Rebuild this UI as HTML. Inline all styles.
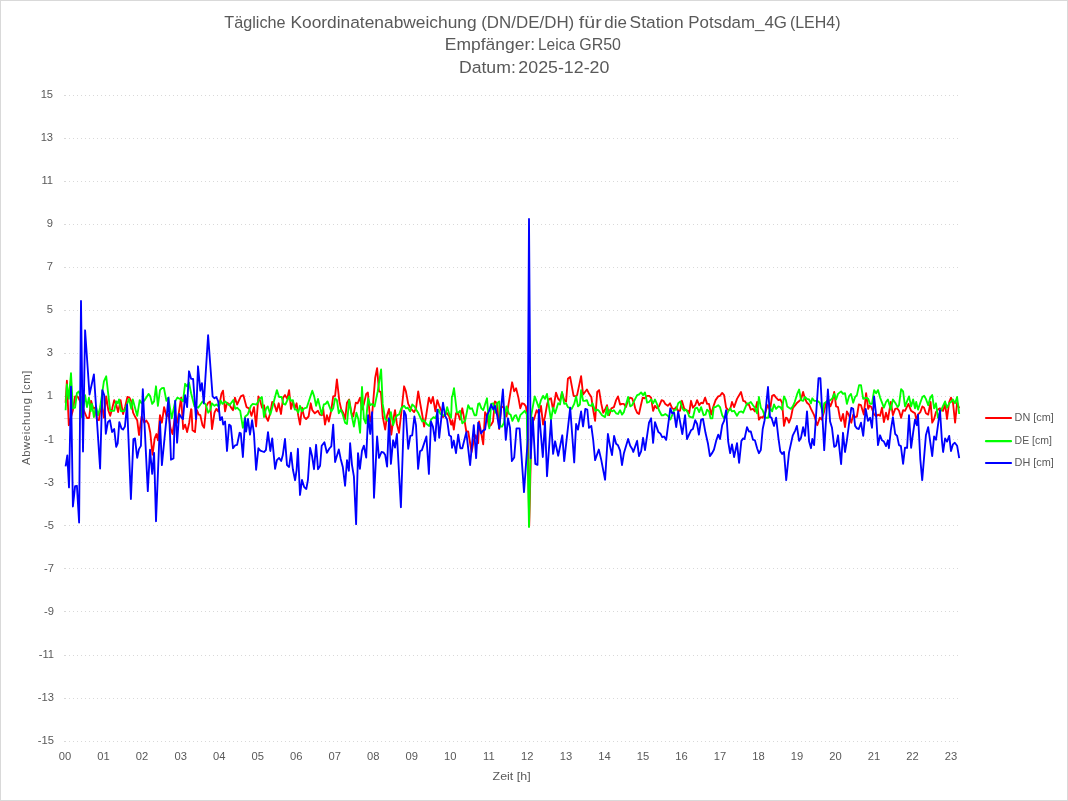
<!DOCTYPE html>
<html><head><meta charset="utf-8"><title>Chart</title>
<style>
html,body{margin:0;padding:0;background:#fff;}
body{width:1068px;height:801px;overflow:hidden;font-family:"Liberation Sans",sans-serif;}
svg{display:block;position:absolute;left:0;top:0;will-change:transform;}
text{font-family:"Liberation Sans",sans-serif;fill:#595959;}
</style></head><body>
<svg width="1068" height="801" viewBox="0 0 1068 801">
<rect x="0.5" y="0.5" width="1067" height="800" fill="#ffffff" stroke="#d9d9d9" stroke-width="1"/>
<g stroke="#d9d9d9" stroke-width="1" stroke-dasharray="1 3" shape-rendering="crispEdges"><line x1="65" y1="741.5" x2="960" y2="741.5"/><line x1="64" y1="741.5" x2="65" y2="741.5"/><line x1="65" y1="698.5" x2="960" y2="698.5"/><line x1="64" y1="698.5" x2="65" y2="698.5"/><line x1="65" y1="655.5" x2="960" y2="655.5"/><line x1="64" y1="655.5" x2="65" y2="655.5"/><line x1="65" y1="611.5" x2="960" y2="611.5"/><line x1="64" y1="611.5" x2="65" y2="611.5"/><line x1="65" y1="568.5" x2="960" y2="568.5"/><line x1="64" y1="568.5" x2="65" y2="568.5"/><line x1="65" y1="525.5" x2="960" y2="525.5"/><line x1="64" y1="525.5" x2="65" y2="525.5"/><line x1="65" y1="482.5" x2="960" y2="482.5"/><line x1="64" y1="482.5" x2="65" y2="482.5"/><line x1="65" y1="439.5" x2="960" y2="439.5"/><line x1="64" y1="439.5" x2="65" y2="439.5"/><line x1="65" y1="396.5" x2="960" y2="396.5"/><line x1="64" y1="396.5" x2="65" y2="396.5"/><line x1="65" y1="353.5" x2="960" y2="353.5"/><line x1="64" y1="353.5" x2="65" y2="353.5"/><line x1="65" y1="310.5" x2="960" y2="310.5"/><line x1="64" y1="310.5" x2="65" y2="310.5"/><line x1="65" y1="267.5" x2="960" y2="267.5"/><line x1="64" y1="267.5" x2="65" y2="267.5"/><line x1="65" y1="224.5" x2="960" y2="224.5"/><line x1="64" y1="224.5" x2="65" y2="224.5"/><line x1="65" y1="181.5" x2="960" y2="181.5"/><line x1="64" y1="181.5" x2="65" y2="181.5"/><line x1="65" y1="138.5" x2="960" y2="138.5"/><line x1="64" y1="138.5" x2="65" y2="138.5"/><line x1="65" y1="95.5" x2="960" y2="95.5"/><line x1="64" y1="95.5" x2="65" y2="95.5"/></g>
<line x1="64" y1="418.5" x2="960" y2="418.5" stroke="#d9d9d9" stroke-width="1" shape-rendering="crispEdges"/>
<g font-size="11.2"><text x="54.0" y="744.0" text-anchor="end">-15</text><text x="54.0" y="700.9" text-anchor="end">-13</text><text x="54.0" y="657.8" text-anchor="end">-11</text><text x="54.0" y="614.8" text-anchor="end">-9</text><text x="54.0" y="571.7" text-anchor="end">-7</text><text x="54.0" y="528.6" text-anchor="end">-5</text><text x="54.0" y="485.6" text-anchor="end">-3</text><text x="54.0" y="442.5" text-anchor="end">-1</text><text x="53.1" y="399.4" text-anchor="end">1</text><text x="53.1" y="356.4" text-anchor="end">3</text><text x="53.1" y="313.3" text-anchor="end">5</text><text x="53.1" y="270.2" text-anchor="end">7</text><text x="53.1" y="227.2" text-anchor="end">9</text><text x="53.1" y="184.1" text-anchor="end">11</text><text x="53.1" y="141.0" text-anchor="end">13</text><text x="53.1" y="98.0" text-anchor="end">15</text></g>
<g font-size="11.2"><text x="65.1" y="760" text-anchor="middle">00</text><text x="103.6" y="760" text-anchor="middle">01</text><text x="142.1" y="760" text-anchor="middle">02</text><text x="180.7" y="760" text-anchor="middle">03</text><text x="219.2" y="760" text-anchor="middle">04</text><text x="257.7" y="760" text-anchor="middle">05</text><text x="296.2" y="760" text-anchor="middle">06</text><text x="334.7" y="760" text-anchor="middle">07</text><text x="373.3" y="760" text-anchor="middle">08</text><text x="411.8" y="760" text-anchor="middle">09</text><text x="450.3" y="760" text-anchor="middle">10</text><text x="488.8" y="760" text-anchor="middle">11</text><text x="527.3" y="760" text-anchor="middle">12</text><text x="565.9" y="760" text-anchor="middle">13</text><text x="604.4" y="760" text-anchor="middle">14</text><text x="642.9" y="760" text-anchor="middle">15</text><text x="681.4" y="760" text-anchor="middle">16</text><text x="719.9" y="760" text-anchor="middle">17</text><text x="758.5" y="760" text-anchor="middle">18</text><text x="797.0" y="760" text-anchor="middle">19</text><text x="835.5" y="760" text-anchor="middle">20</text><text x="874.0" y="760" text-anchor="middle">21</text><text x="912.5" y="760" text-anchor="middle">22</text><text x="951.1" y="760" text-anchor="middle">23</text></g>
<g><text x="224.31" y="27.9" font-size="16.8" textLength="61.2" lengthAdjust="spacingAndGlyphs">Tägliche</text><text x="290.41" y="27.9" font-size="16.8" textLength="186.2" lengthAdjust="spacingAndGlyphs">Koordinatenabweichung</text><text x="481.24" y="27.9" font-size="16.8" textLength="93.0" lengthAdjust="spacingAndGlyphs">(DN/DE/DH)</text><text x="578.81" y="27.9" font-size="16.8" textLength="22.9" lengthAdjust="spacingAndGlyphs">für</text><text x="604.25" y="27.9" font-size="16.8" textLength="22.6" lengthAdjust="spacingAndGlyphs">die</text><text x="629.64" y="27.9" font-size="16.8" textLength="54.0" lengthAdjust="spacingAndGlyphs">Station</text><text x="688.34" y="27.9" font-size="16.8" textLength="98.7" lengthAdjust="spacingAndGlyphs">Potsdam_4G</text><text x="789.89" y="27.9" font-size="16.8" textLength="50.6" lengthAdjust="spacingAndGlyphs">(LEH4)</text><text x="444.85" y="50.4" font-size="16.8" textLength="90.2" lengthAdjust="spacingAndGlyphs">Empfänger:</text><text x="537.97" y="50.4" font-size="16.8" textLength="37.1" lengthAdjust="spacingAndGlyphs">Leica</text><text x="579.22" y="50.4" font-size="16.8" textLength="41.8" lengthAdjust="spacingAndGlyphs">GR50</text><text x="458.9" y="72.9" font-size="16.8" textLength="56.9" lengthAdjust="spacingAndGlyphs">Datum:</text><text x="518.37" y="72.9" font-size="16.8" textLength="91.0" lengthAdjust="spacingAndGlyphs">2025-12-20</text></g>
<text x="492.6" y="779.5" font-size="11" textLength="38.0" lengthAdjust="spacingAndGlyphs">Zeit [h]</text>
<text transform="translate(29.9,464.9) rotate(-90)" font-size="11.3" textLength="94.2" lengthAdjust="spacing">Abweichung [cm]</text>
<line x1="986" y1="418" x2="1011" y2="418" stroke="#ff0000" stroke-width="2.2" stroke-linecap="round"/>
<text x="1014.6" y="420.8" font-size="11" textLength="39.3" lengthAdjust="spacingAndGlyphs">DN [cm]</text>
<line x1="986" y1="441.2" x2="1011" y2="441.2" stroke="#00ff00" stroke-width="2.2" stroke-linecap="round"/>
<text x="1014.6" y="444.0" font-size="11" textLength="37.3" lengthAdjust="spacingAndGlyphs">DE [cm]</text>
<line x1="986" y1="463" x2="1011" y2="463" stroke="#0000ff" stroke-width="2.2" stroke-linecap="round"/>
<text x="1014.6" y="465.8" font-size="11" textLength="39.3" lengthAdjust="spacingAndGlyphs">DH [cm]</text>
<polyline points="65.6,402.7 66.9,380.7 68.8,425.2 72.9,410.2 75.1,396.4 77.6,396.4 80.1,401.4 87.0,418.0 89.1,418.0 91.1,400.8 93.2,408.3 95.1,407.7 97.0,419.6 98.9,420.2 101.4,401.4 103.9,417.7 106.2,396.4 108.3,410.2 110.2,415.8 112.1,408.9 114.2,400.1 116.2,404.5 118.1,412.1 120.6,400.1 123.1,414.0 125.2,406.4 127.4,397.0 129.4,397.6 131.3,401.4 133.1,412.7 135.3,417.1 137.2,420.2 139.0,435.0 141.6,416.5 144.3,422.7 146.3,420.5 148.5,424.0 150.3,432.8 152.5,454.7 154.7,438.4 156.4,434.0 157.9,440.3 160.0,415.2 161.9,422.7 164.1,407.1 166.6,416.5 168.5,414.0 170.4,427.8 172.5,434.0 175.2,415.2 177.3,422.7 179.2,410.2 181.1,397.6 183.2,429.0 185.1,424.6 187.1,432.1 189.2,422.7 191.1,409.2 191.5,409.6 192.5,430.3 195.0,432.1 196.9,410.2 198.8,414.6 200.3,415.2 202.5,425.2 204.1,427.8 206.3,406.4 208.2,402.7 210.1,401.4 212.0,429.0 214.5,412.7 216.3,408.9 218.2,411.4 221.4,393.9 223.0,390.7 225.1,411.4 227.0,402.7 228.9,403.9 230.8,407.1 233.0,410.2 234.9,397.6 237.1,404.5 240.8,396.4 243.3,395.1 246.5,407.1 249.0,408.3 251.5,415.8 254.0,407.1 256.1,426.5 258.4,396.4 260.3,401.4 262.1,407.7 264.0,405.2 265.9,416.5 268.0,420.9 270.3,412.7 272.2,402.0 274.3,403.9 276.6,411.4 278.7,403.3 281.0,414.0 283.1,397.6 285.0,395.1 287.2,398.9 289.1,390.1 291.0,408.9 292.9,401.4 294.8,408.3 296.6,403.3 298.2,415.2 300.0,424.6 302.0,407.7 304.2,417.1 306.1,419.0 308.6,416.5 310.7,403.3 312.3,410.2 314.8,413.3 318.0,410.8 319.9,414.6 321.7,415.2 322.5,414.6 323.1,407.7 325.0,424.6 326.9,415.2 328.8,421.5 331.3,410.2 333.2,396.4 335.1,395.8 336.9,379.4 339.4,401.4 341.3,409.6 343.2,412.7 345.1,419.0 347.0,402.7 349.1,399.5 351.4,412.7 353.2,416.5 355.8,402.7 357.6,403.3 360.1,397.6 362.0,409.6 363.9,403.9 366.2,393.9 367.9,392.6 370.2,421.5 372.1,415.2 375.2,377.6 377.1,368.2 379.0,391.4 380.9,392.0 382.7,416.5 385.2,429.6 387.1,415.2 389.0,408.9 391.3,434.7 393.4,419.0 395.0,410.2 396.9,424.0 399.0,432.8 401.6,410.2 404.1,386.3 405.9,391.4 408.2,403.9 410.3,407.7 412.2,410.2 414.1,412.1 416.0,408.3 418.2,391.4 420.4,404.5 422.3,415.2 424.1,426.5 426.0,416.5 428.9,397.6 431.0,403.3 432.9,397.0 435.4,411.4 437.3,400.1 439.2,405.8 441.1,410.2 443.0,417.1 444.8,415.2 446.7,412.7 449.2,416.5 451.1,424.6 451.9,424.6 452.4,420.2 453.8,429.6 456.0,413.3 458.2,414.0 460.0,419.6 462.3,408.3 464.4,419.6 466.3,431.5 468.2,431.5 471.6,452.0 473.8,440.3 475.7,435.3 478.2,443.2 479.1,421.5 481.4,434.0 483.2,444.4 485.1,412.1 487.0,415.8 488.9,426.5 490.8,425.2 493.0,421.5 494.9,401.4 497.1,403.3 499.2,429.0 501.4,406.4 504.0,407.7 506.5,416.5 509.0,401.4 512.1,382.3 514.2,391.4 516.1,388.2 518.4,397.6 520.3,408.3 522.1,403.3 524.0,403.9 525.9,406.4 527.5,417.7 529.2,525.9 531.6,424.0 534.1,419.0 536.6,410.2 539.1,414.0 541.0,405.8 543.1,424.6 545.0,416.5 547.2,403.9 549.1,398.9 551.0,398.3 553.1,410.2 556.0,392.6 558.2,398.9 560.0,400.8 562.0,392.6 564.2,400.1 566.1,401.4 567.9,378.8 570.1,376.9 573.6,395.8 575.5,396.4 577.1,395.1 581.1,376.1 583.0,393.9 583.1,394.5 585.0,392.0 586.9,389.5 588.8,393.2 591.3,397.0 593.2,410.2 595.1,420.9 597.2,392.0 599.1,390.1 601.3,403.9 603.2,412.7 605.1,409.6 607.0,405.2 609.1,415.2 611.4,408.3 613.9,407.1 616.1,400.1 618.0,396.4 620.1,404.5 622.0,403.9 623.9,403.9 626.0,407.1 628.1,400.1 630.2,397.6 632.1,398.3 634.0,403.3 635.2,408.3 637.1,412.7 639.0,414.0 640.9,405.2 642.7,397.6 644.6,398.3 647.1,395.8 649.0,395.8 651.1,397.6 653.1,410.8 655.0,405.8 656.9,408.3 659.0,406.4 661.6,400.1 663.4,400.8 665.3,403.9 667.8,405.8 670.0,403.3 672.2,408.3 674.1,409.6 676.2,407.1 678.2,410.8 680.0,410.8 681.9,400.8 684.1,408.3 686.0,410.2 687.9,410.8 689.2,413.3 691.0,400.8 692.9,407.7 695.2,405.2 697.1,400.1 699.2,405.2 701.1,402.7 703.0,403.3 705.1,397.6 707.1,403.9 709.0,403.9 711.1,414.6 713.0,407.7 713.8,405.2 715.6,400.1 718.2,396.4 720.0,395.8 722.2,392.9 724.1,395.1 726.1,407.7 728.2,410.2 730.1,409.6 732.0,402.0 734.1,407.1 737.0,398.9 741.0,392.0 743.2,400.8 745.1,401.4 747.0,404.5 748.9,404.5 750.8,409.6 753.0,408.9 754.9,411.4 757.1,402.0 758.9,419.6 760.8,417.1 762.7,417.7 765.2,412.7 767.7,405.2 770.0,410.2 772.1,395.8 774.0,394.9 776.1,397.6 778.4,400.1 780.3,399.5 782.1,402.7 784.0,425.9 785.9,417.7 787.2,418.3 789.0,422.7 790.9,417.7 792.8,408.3 794.7,405.8 797.2,402.7 801.0,399.5 803.1,392.0 805.0,398.9 807.0,402.7 809.1,404.5 811.0,408.9 814.1,415.2 817.3,425.2 819.8,417.7 821.7,419.6 824.2,411.4 826.1,402.7 827.9,400.1 830.4,406.4 832.3,401.4 834.2,392.0 836.1,406.4 838.0,407.1 839.9,417.7 841.1,420.9 843.0,414.0 843.1,414.0 845.0,427.1 846.9,411.4 849.0,415.2 851.3,422.7 853.2,414.6 855.1,417.1 856.9,416.5 858.8,404.5 861.0,405.2 863.8,414.6 866.1,393.2 868.2,408.9 869.5,405.8 871.4,407.1 873.9,414.0 876.1,416.5 878.0,414.6 880.1,415.8 882.0,407.7 883.9,422.1 886.0,412.7 887.9,419.6 890.8,402.0 892.9,415.2 895.2,408.9 897.1,408.3 899.0,410.8 901.1,417.7 903.1,410.2 905.0,410.8 908.4,403.9 911.1,410.8 913.1,412.1 915.0,413.3 916.2,419.0 918.4,414.0 920.3,412.1 922.4,406.4 924.1,407.7 925.9,413.3 928.2,414.6 930.6,402.0 932.2,422.7 934.1,419.0 936.0,412.1 937.9,409.6 940.0,408.3 941.9,410.2 943.1,410.8 945.1,403.9 947.0,419.0 949.2,402.0 951.0,397.6 952.9,402.0 955.1,422.7 957.1,402.7 959.2,408.3" fill="none" stroke="#ff0000" stroke-width="1.85" stroke-linejoin="round" stroke-linecap="butt"/>
<polyline points="65.6,410.2 66.9,384.5 68.8,398.9 71.0,373.2 72.9,408.3 75.1,407.7 76.9,393.2 78.8,391.4 80.7,397.6 82.0,417.1 85.1,395.1 87.0,407.1 88.9,397.6 90.7,411.4 92.0,403.9 93.9,417.1 96.0,406.4 98.0,415.2 100.1,407.7 103.9,381.3 106.2,376.3 110.2,410.8 114.2,410.8 116.2,401.4 117.7,403.3 119.0,399.5 121.1,411.4 124.6,410.8 129.0,398.9 131.3,408.9 132.8,399.5 137.2,415.8 139.7,400.1 141.6,403.3 144.7,400.1 148.5,393.9 150.3,396.4 152.2,403.9 154.1,401.4 156.0,386.3 157.9,405.8 160.0,390.1 161.9,388.2 163.9,387.9 166.4,400.8 168.3,397.6 171.7,418.3 175.2,401.4 177.3,397.6 181.1,399.5 183.0,401.4 185.1,383.8 187.1,386.3 189.0,382.6 191.1,393.2 194.4,406.4 198.2,407.7 202.5,401.4 205.7,404.5 208.2,412.7 210.1,410.2 212.0,403.3 214.5,405.8 216.3,404.5 218.9,406.4 220.7,400.8 222.6,403.9 225.1,401.4 227.6,403.9 229.5,405.2 233.3,400.1 235.2,408.9 237.1,407.7 240.2,410.8 242.9,427.8 245.2,416.5 247.7,414.6 250.9,405.8 252.7,403.9 256.5,404.5 259.6,398.9 261.9,397.0 264.0,417.1 266.2,408.3 267.8,406.4 270.3,414.6 272.2,407.7 276.9,390.1 279.1,397.0 281.6,397.0 283.5,403.9 285.4,404.5 289.1,396.4 291.0,400.8 292.9,400.1 294.8,409.6 296.6,409.6 298.2,412.7 300.0,405.8 302.0,411.4 304.2,408.3 306.7,407.7 312.3,390.7 314.2,396.4 316.1,405.8 318.0,398.9 321.7,414.6 321.9,413.3 323.8,404.5 325.6,403.9 327.5,401.4 329.4,406.4 331.3,411.4 333.2,408.3 335.1,398.3 336.9,400.1 338.8,413.3 340.7,409.6 342.6,414.0 345.1,422.7 347.0,424.0 349.1,400.1 351.4,414.0 353.9,426.5 356.4,412.7 358.3,419.0 360.1,432.8 362.0,387.0 363.9,419.0 365.8,423.4 368.1,398.3 370.2,405.2 372.1,403.9 374.6,406.4 377.7,391.4 381.1,369.4 382.7,403.9 385.2,419.0 389.0,421.5 390.9,412.1 393.1,425.2 395.3,418.3 397.2,415.2 399.0,414.6 401.6,407.7 404.1,405.8 405.9,408.3 407.8,407.7 410.1,411.4 412.2,404.5 414.4,406.4 416.6,410.2 418.5,413.3 420.4,417.7 422.3,421.5 424.1,420.2 426.6,424.0 429.2,425.9 431.0,419.6 433.5,417.1 435.4,418.3 438.6,409.6 440.4,414.0 443.0,415.2 445.1,415.8 447.1,407.1 449.2,414.0 451.1,417.7 451.9,396.4 452.4,396.4 454.0,388.2 456.9,412.7 458.8,412.1 460.0,410.8 462.3,423.4 465.1,420.9 468.2,405.2 470.1,408.9 472.0,408.3 474.5,415.2 476.3,415.2 478.2,403.9 479.5,403.3 481.4,408.3 483.2,410.2 487.0,398.3 489.3,428.4 491.2,403.9 493.3,403.3 495.2,412.7 497.1,403.3 499.2,401.4 500.2,426.5 502.1,426.5 504.0,422.7 506.5,406.4 509.0,414.0 510.6,414.6 512.4,420.9 514.6,415.8 516.1,415.2 518.4,421.5 520.3,415.2 522.1,413.3 524.7,410.8 526.8,414.2 529.0,527.0 531.3,415.2 534.7,396.4 536.6,401.4 538.8,407.7 541.0,400.1 543.1,395.8 545.0,398.9 547.0,393.9 551.0,420.2 553.1,407.7 555.1,413.3 558.2,403.3 560.0,404.5 562.0,392.0 564.2,403.9 566.1,403.3 567.9,407.1 571.7,408.9 574.2,403.9 576.1,396.4 578.0,406.4 579.9,404.5 581.1,390.1 583.0,400.1 583.1,400.8 585.0,400.8 586.9,400.1 588.8,405.2 591.3,405.8 592.5,403.3 595.1,410.8 597.6,409.6 599.4,411.4 602.0,415.2 605.1,417.1 607.0,407.1 607.9,415.2 610.1,409.6 612.0,411.4 613.9,410.2 616.1,413.3 618.0,414.0 620.1,410.2 622.0,414.6 623.9,412.1 628.1,397.0 630.2,406.4 632.1,405.2 634.6,400.1 637.1,395.1 639.0,394.5 641.1,392.4 643.1,395.1 645.0,392.4 647.1,402.7 649.0,402.0 651.1,399.5 653.1,403.3 655.0,399.5 656.9,403.9 659.0,410.2 661.6,415.2 663.4,415.2 665.3,414.0 667.8,415.8 670.3,419.6 672.2,415.2 674.1,410.2 676.2,409.6 678.2,403.3 680.4,401.4 682.3,408.3 684.1,410.8 686.0,409.6 687.9,412.7 689.2,416.5 691.0,417.1 692.9,417.7 695.2,408.3 697.1,407.7 699.2,412.1 701.1,407.1 703.6,415.2 705.5,414.6 707.1,409.6 709.0,411.4 710.5,418.3 712.4,418.3 713.8,407.1 715.6,407.1 718.2,405.2 720.0,407.1 722.2,415.2 724.1,418.3 726.1,416.5 728.2,411.4 730.1,408.3 732.0,411.4 734.1,410.8 737.0,415.8 739.1,412.1 741.4,411.4 743.2,412.7 747.0,403.3 748.9,403.3 750.8,402.0 753.0,405.2 754.9,407.7 757.1,413.3 758.9,397.0 760.8,407.7 762.7,410.2 765.2,417.7 768.3,417.7 770.0,407.7 772.1,411.4 774.0,404.5 776.1,408.9 778.4,406.4 780.3,407.1 782.1,409.6 784.0,396.4 785.9,400.1 787.2,406.4 789.0,407.7 790.9,408.9 792.8,406.4 794.7,402.0 797.2,393.9 799.1,389.5 801.0,400.1 803.1,400.8 805.0,397.0 807.0,398.9 809.1,399.5 811.0,403.3 812.3,398.3 814.1,400.8 817.3,400.8 819.8,402.7 821.7,408.9 822.9,413.3 824.2,403.3 826.1,402.0 827.9,401.4 830.4,400.1 832.3,398.3 834.2,393.9 836.1,399.5 838.0,393.9 841.1,391.4 843.0,393.9 843.1,393.9 845.0,393.2 846.9,403.9 849.0,396.4 851.0,393.9 853.2,402.7 855.1,397.0 856.9,395.1 859.1,385.1 861.0,385.1 863.2,398.9 866.1,397.6 868.2,398.9 870.1,403.9 872.0,403.9 874.1,390.1 876.1,393.2 878.0,390.1 880.1,397.6 883.9,407.7 886.0,402.0 887.9,399.5 890.8,409.6 892.9,399.5 895.2,402.7 897.7,407.1 899.0,405.2 901.1,389.1 903.1,391.4 905.0,406.4 909.0,396.4 911.1,406.4 913.1,399.5 915.0,408.3 916.2,402.0 918.0,409.6 920.3,402.7 922.4,397.0 924.1,395.8 925.9,398.9 928.2,405.2 930.3,397.6 932.2,395.1 934.1,408.3 936.0,403.3 937.9,417.7 940.0,412.7 941.9,408.3 945.1,401.4 947.0,407.7 949.2,403.3 951.0,402.0 952.9,399.5 955.1,403.3 957.1,397.0 959.2,414.0" fill="none" stroke="#00ff00" stroke-width="1.85" stroke-linejoin="round" stroke-linecap="butt"/>
<polyline points="65.6,466.4 67.3,455.4 69.0,487.4 71.0,386.6 72.9,506.5 75.1,486.1 76.9,485.8 79.1,522.5 81.0,301.0 83.0,451.6 85.1,330.3 89.5,394.5 93.9,374.4 100.1,468.5 102.3,390.1 104.2,395.1 105.8,433.8 107.9,422.1 109.9,420.2 112.1,432.1 114.2,429.0 116.2,446.8 117.7,443.4 119.3,422.1 121.5,428.4 123.1,429.6 124.9,426.5 127.1,404.5 130.9,499.0 133.4,439.0 135.0,438.4 137.2,457.9 139.0,449.1 140.9,445.9 142.8,389.1 147.8,491.1 150.0,449.7 152.2,473.9 154.1,452.8 156.0,521.2 160.0,421.5 161.9,465.1 168.5,397.6 171.0,459.7 173.5,458.5 175.2,400.8 177.1,442.8 179.2,414.0 181.1,417.1 183.0,419.0 185.1,395.1 187.1,407.1 189.0,371.3 191.1,378.8 193.1,378.8 196.0,419.0 198.0,366.3 200.3,390.7 201.9,383.2 203.8,403.3 208.1,335.2 212.6,396.4 214.5,398.3 216.3,397.0 218.2,401.4 220.1,420.2 222.0,417.1 223.2,424.6 225.1,421.5 227.0,451.0 229.1,424.6 230.8,425.9 233.0,448.2 235.2,445.3 237.1,444.9 239.6,432.8 240.8,433.4 242.9,457.0 245.2,418.3 246.1,431.5 248.0,419.0 250.0,434.7 252.1,420.2 254.0,434.0 256.1,469.8 258.4,448.2 260.3,450.6 264.0,452.0 265.9,450.1 268.0,432.1 270.3,451.0 272.2,438.4 275.1,468.9 276.9,460.1 279.1,457.9 281.2,461.0 282.8,455.1 285.0,439.0 287.0,465.1 289.1,467.0 291.0,452.6 292.9,469.5 295.1,480.2 296.6,470.2 297.9,448.8 300.0,495.0 302.0,479.9 304.2,487.1 306.3,489.0 307.9,480.2 310.1,447.8 312.0,455.7 314.0,469.2 316.1,444.8 318.0,469.2 320.1,465.8 321.7,445.7 324.4,442.2 326.9,452.8 329.4,448.5 331.3,446.3 333.2,424.6 335.1,462.0 338.8,449.5 340.7,458.9 342.8,467.0 345.1,485.8 347.0,460.1 348.9,470.8 350.1,443.2 352.0,465.1 353.9,476.4 356.1,524.2 358.0,453.2 359.9,468.9 362.0,450.7 363.9,445.7 366.2,457.6 368.1,415.2 370.2,434.0 372.1,412.1 374.0,497.8 377.1,436.5 379.0,457.9 381.5,452.0 383.4,452.3 385.2,455.1 387.1,466.6 389.0,418.3 390.9,463.9 393.1,440.3 395.0,447.6 396.9,434.0 400.9,507.2 404.1,410.8 405.9,415.2 408.2,448.8 410.3,435.9 412.2,435.3 414.4,416.5 416.0,425.2 418.1,468.9 420.0,451.3 421.9,450.1 426.4,436.5 428.9,473.9 431.0,421.5 432.9,426.5 435.1,440.9 437.3,409.6 439.2,437.8 443.0,402.7 445.1,415.8 447.1,419.6 449.2,435.3 451.1,436.5 452.0,447.8 453.8,440.6 456.0,453.2 458.2,434.7 460.3,448.2 462.3,448.2 466.3,432.1 470.1,465.1 473.8,425.2 476.1,458.2 478.2,422.7 481.1,433.4 483.2,430.3 485.1,429.6 487.0,415.2 488.9,411.4 491.2,404.5 493.3,409.6 494.9,405.8 497.1,415.2 499.2,428.4 502.9,389.5 505.8,439.9 508.0,418.3 510.0,427.8 511.9,461.1 514.2,457.6 516.5,428.4 519.6,428.4 524.0,492.1 527.7,440.3 529.0,219.0 530.7,458.2 532.8,417.7 535.3,463.9 537.5,464.9 538.8,409.6 542.8,457.0 545.0,421.5 547.0,476.2 551.0,420.2 553.1,453.9 555.1,441.3 558.2,455.7 562.3,435.3 564.2,461.1 570.2,407.7 574.2,462.4 576.1,424.0 578.0,429.6 581.1,411.4 583.0,426.5 583.1,426.5 585.3,408.9 587.3,409.6 589.0,427.8 591.3,425.9 593.2,440.0 595.1,460.1 598.8,449.5 601.3,460.1 603.2,470.2 605.1,479.8 607.9,434.0 610.1,446.3 612.0,455.1 614.1,435.9 616.1,443.8 618.0,445.3 620.1,450.7 622.0,465.1 623.9,453.2 628.1,439.0 630.2,445.7 632.1,448.8 633.3,452.0 637.1,440.9 639.0,456.1 641.1,451.3 643.1,437.8 645.0,450.1 649.0,422.7 651.1,418.3 653.1,442.8 655.0,422.1 658.4,432.1 660.3,433.4 662.2,437.2 664.1,436.5 666.2,439.9 670.3,408.3 672.2,413.3 674.1,412.7 676.2,427.1 678.2,411.4 682.3,434.0 685.1,415.2 687.0,439.0 691.0,430.3 692.9,429.0 695.2,420.2 697.1,424.0 698.9,434.7 701.1,419.6 703.0,419.0 705.5,432.8 708.0,443.8 709.9,456.1 712.4,452.6 714.0,449.5 716.3,440.3 718.2,434.7 720.0,439.0 722.2,425.2 724.1,420.9 726.1,410.2 728.2,441.6 730.1,453.2 732.0,444.4 734.1,457.0 737.0,443.2 739.1,462.9 741.4,440.9 743.2,438.4 744.5,439.0 747.0,427.1 748.9,431.5 750.8,431.5 753.0,439.7 754.9,440.3 757.1,448.2 758.9,453.2 760.8,450.1 762.7,429.0 764.6,420.2 768.0,387.0 770.0,417.1 771.5,417.7 774.0,425.9 776.1,417.7 778.4,437.8 780.3,451.3 782.1,453.9 784.0,452.0 786.2,480.2 789.0,452.6 792.8,435.3 795.3,430.3 796.9,425.9 799.1,440.9 801.0,437.8 803.1,427.1 805.0,435.9 807.0,411.4 809.1,441.6 811.0,448.2 812.3,439.0 814.1,445.1 818.5,378.2 820.4,378.2 824.2,450.1 827.9,389.5 830.1,421.5 832.0,427.8 834.2,446.9 836.1,445.7 838.0,435.3 841.1,464.1 843.0,432.8 845.0,452.0 846.9,440.3 849.0,424.0 851.3,407.9 853.2,408.9 855.1,425.9 856.9,428.4 858.8,429.0 861.0,422.7 863.2,435.9 865.7,408.9 867.9,420.9 870.1,417.7 872.0,427.8 874.1,396.4 876.1,415.2 878.0,445.1 880.1,435.3 882.0,440.3 883.9,441.6 886.0,446.1 887.9,440.3 888.9,448.2 890.8,430.3 892.9,417.1 895.2,434.0 897.1,435.9 899.0,445.1 900.9,446.1 903.1,463.9 905.0,447.6 907.1,447.8 909.0,415.2 911.1,447.8 913.1,432.8 915.0,419.6 916.9,425.2 918.0,414.6 920.3,459.1 922.2,480.2 925.9,435.3 928.2,427.1 932.2,456.1 934.1,436.5 936.0,439.7 940.0,410.2 941.9,440.3 943.1,452.0 945.1,438.4 947.0,441.6 949.2,435.9 951.0,451.1 952.9,444.4 954.8,442.8 957.1,445.7 959.2,458.2" fill="none" stroke="#0000ff" stroke-width="1.85" stroke-linejoin="round" stroke-linecap="butt"/>
</svg></body></html>
